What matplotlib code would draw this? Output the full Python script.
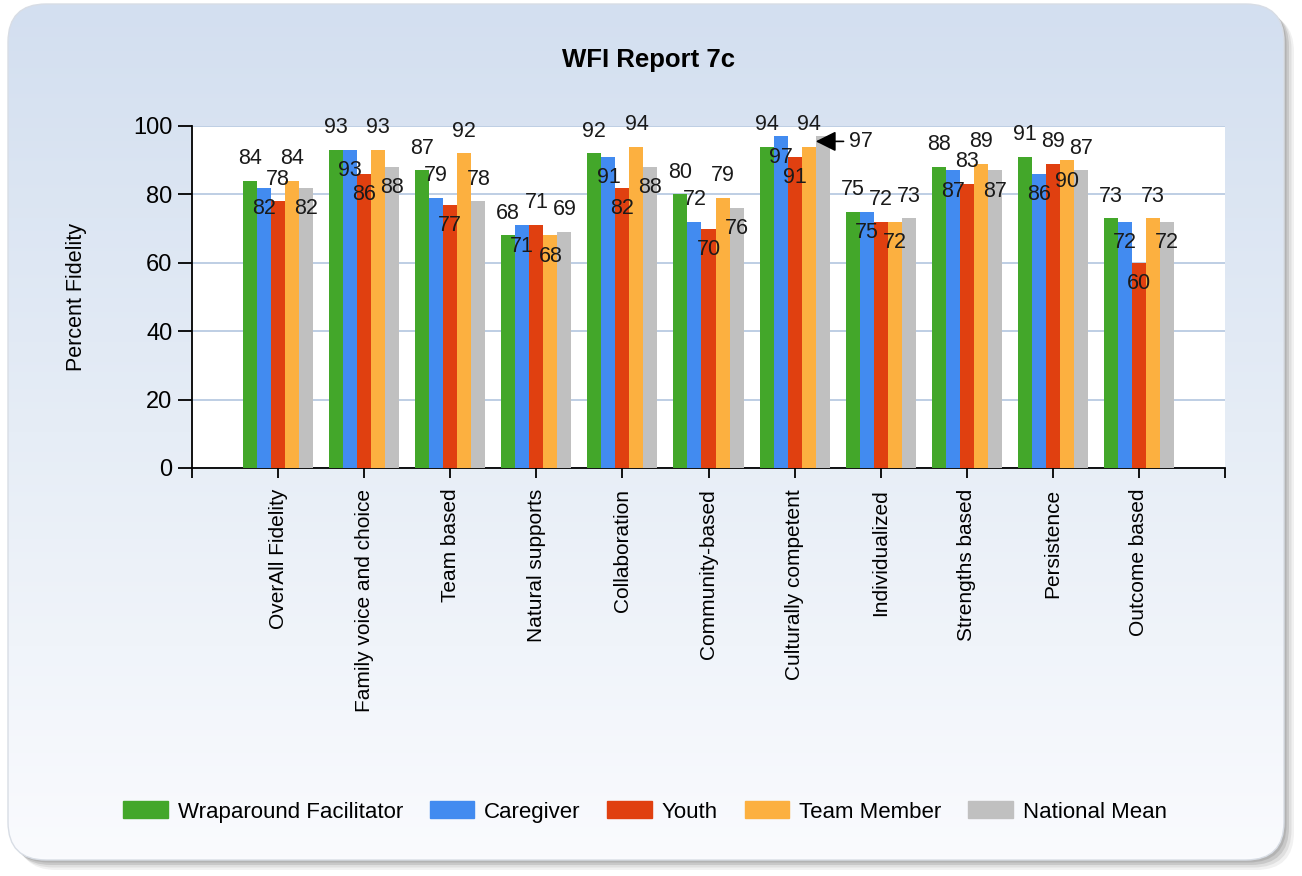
import matplotlib.pyplot as plt
import numpy as np
from matplotlib.patches import FancyBboxPatch, Patch
from matplotlib.colors import LinearSegmentedColormap

plt.rcParams['font.family'] = ['Liberation Sans', 'DejaVu Sans']

categories = ["OverAll Fidelity", "Family voice and choice", "Team based",
              "Natural supports", "Collaboration", "Community-based",
              "Culturally competent", "Individualized", "Strengths based",
              "Persistence", "Outcome based"]
series_names = ["Wraparound Facilitator", "Caregiver", "Youth",
                "Team Member", "National Mean"]
facilitator = [84, 93, 87, 68, 92, 80, 94, 75, 88, 91, 73]
caregiver = [82, 93, 79, 71, 91, 72, 97, 75, 87, 86, 72]
youth = [78, 86, 77, 71, 82, 70, 91, 72, 83, 89, 60]
team_member = [84, 93, 92, 68, 94, 79, 94, 72, 89, 90, 73]
national_mean = [82, 88, 78, 69, 88, 76, 97, 73, 87, 87, 72]

colors = ['#43a72a', '#428bf0', '#e04010', '#fcb040', '#c0c0c0']
# label placement per group: a = above bar, i = inside bar top, c = callout
placement = ["aiaai", "aiiai", "aaiaa", "aiaia", "aiiai", "aaiai",
             "aiiac", "aiaia", "aiaai", "aiaia", "aiiai"]

W, H = 1302, 876
fig = plt.figure(figsize=(W / 100, H / 100), dpi=100)

# rounded gradient background with soft shadow
bg = fig.add_axes([0, 0, 1, 1])
bg.axis('off')
for k, a in enumerate([0.12, 0.18, 0.28, 0.35]):
    off = 10 - 2.5 * k
    sh = FancyBboxPatch((8 + off, 4 + off), 1276, 856,
                        boxstyle="round,pad=0,rounding_size=38",
                        fc='#8e8e8e', ec='none', alpha=a, zorder=0)
    bg.add_patch(sh)
box = FancyBboxPatch((8, 4), 1276, 856, boxstyle="round,pad=0,rounding_size=38",
                     fc='none', ec='#d8dde5', lw=1, zorder=3)
bg.add_patch(box)
cmap = LinearSegmentedColormap.from_list('bgc', ['#d3dff0', '#e6edf6', '#fafbfe'])
grad = np.linspace(0, 1, 256).reshape(-1, 1)
im = bg.imshow(grad, cmap=cmap, extent=(8, 1284, 860, 4), aspect='auto',
               origin='upper', zorder=2)
im.set_clip_path(box)
bg.set_xlim(0, W)
bg.set_ylim(H, 0)

ax = fig.add_axes([192 / W, (H - 468) / H, 1033 / W, 342 / H])
ax.set_facecolor('white')

data = [facilitator, caregiver, youth, team_member, national_mean]
x = np.arange(1, len(categories) + 1)
bw = 0.163
for s, (vals, name) in enumerate(zip(data, series_names)):
    xs = x + (s - 2) * bw
    ax.bar(xs, vals, bw, color=colors[s], label=name, zorder=3)
    for g, (xi, v) in enumerate(zip(xs, vals)):
        mode = placement[g][s]
        if mode == 'a':
            ax.annotate(str(v), (xi, v), xytext=(0, 16), textcoords='offset points',
                        ha='center', va='center', fontsize=15.5, color='#1a1a1a', zorder=5)
        elif mode == 'i':
            ax.annotate(str(v), (xi, v), xytext=(0, -15), textcoords='offset points',
                        ha='center', va='center', fontsize=15.5, color='#1a1a1a', zorder=5)
        else:
            ax.annotate(str(v), (xi - 0.08, v - 1.5), xytext=(24, 0),
                        textcoords='offset points', ha='left', va='center',
                        fontsize=15.5, color='#1a1a1a', zorder=5,
                        arrowprops=dict(arrowstyle='-|>,head_width=0.4,head_length=0.8',
                                        color='black', lw=1.2, shrinkA=2, shrinkB=0))

ax.set_xlim(0, len(categories) + 1)
ax.set_ylim(0, 100)
ax.set_yticks(np.arange(0, 101, 20))
ax.yaxis.grid(True, color='#b3c6df', lw=1.2, zorder=0)
ax.set_xticks(np.arange(0, len(categories) + 2))
ax.set_xticklabels([''] + categories + [''], rotation=90, fontsize=15, va='top')
ax.tick_params(axis='x', length=7, width=1.3, pad=8)
ax.tick_params(axis='y', length=10, width=1.3, pad=4, labelsize=17)
for sp in ['top', 'right']:
    ax.spines[sp].set_visible(False)
ax.spines['left'].set_linewidth(1.3)
ax.spines['bottom'].set_linewidth(1.3)
ax.set_ylabel("Percent Fidelity", fontsize=15.5)
ax.yaxis.set_label_coords(-(192 - 87) / 1033, 0.5)

fig.text(648 / W, 1 - 60 / H, "WFI Report 7c", fontsize=18.5, fontweight='bold',
         ha='center', va='center')

handles = [Patch(color=c, label=n) for c, n in zip(colors, series_names)]
fig.legend(handles=handles, loc='center', bbox_to_anchor=(645 / W, 1 - 812 / H),
           ncol=5, frameon=False, fontsize=16, handlelength=2.0, handleheight=0.8,
           columnspacing=1.2, handletextpad=0.45)

fig.savefig('out.png', dpi=100)
